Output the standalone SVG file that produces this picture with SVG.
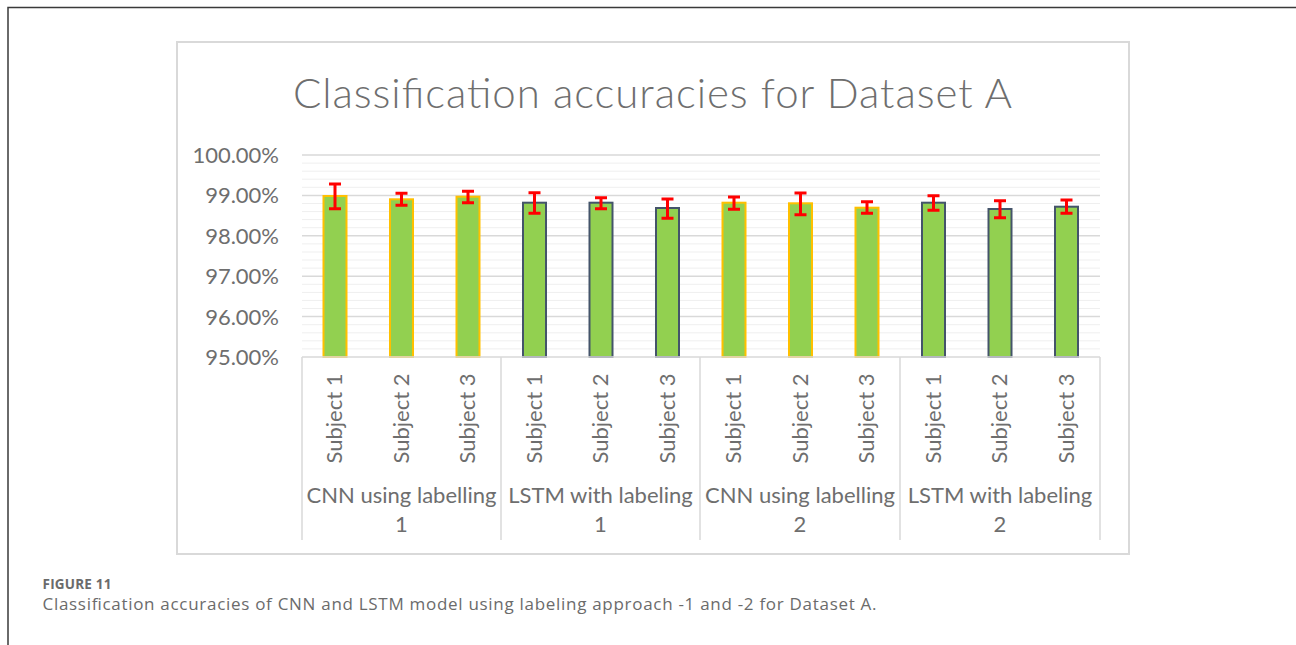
<svg xmlns="http://www.w3.org/2000/svg" width="1296" height="645" viewBox="0 0 1296 645">
  <style>
    .frame { fill: #ffffff; stroke: #d9d9d9; stroke-width: 2; }
    .major { stroke: #d9d9d9; stroke-width: 1.5; }
    .minor { stroke: #efefef; stroke-width: 1; }
    .axis { stroke: #d9d9d9; stroke-width: 1.5; fill: none; }
    .title { font-family: Lato, "Liberation Sans", sans-serif; font-weight: 300; font-size: 42px; fill: #6e6e6e; }
    .tick { font-family: Lato, "Liberation Sans", sans-serif; font-size: 22px; fill: #6e6e6e; text-anchor: end; }
    .sub { font-family: Lato, "Liberation Sans", sans-serif; font-size: 22px; fill: #6e6e6e; text-anchor: middle; }
    .grp { font-family: Lato, "Liberation Sans", sans-serif; font-size: 22px; fill: #6e6e6e; text-anchor: middle; }
    .cnn { fill: #92d050; stroke: #ffc000; stroke-width: 2; }
    .lstm { fill: #92d050; stroke: #44546a; stroke-width: 2; }
    .err { stroke: #ff0000; stroke-width: 3; fill: none; }
    .figlabel { font-family: "Open Sans", "Noto Sans", sans-serif; font-weight: 700; font-size: 13.5px; fill: #6b6b6b; }
    .caption { font-family: "Open Sans", "Noto Sans", sans-serif; font-size: 17px; fill: #6b6b6b; }
  </style>

  <!-- page border -->
  <path d="M8,645 V7.5 H1296" fill="none" stroke="#3a3a3a" stroke-width="1.5"/>

  <!-- chart area -->
  <rect class="frame" x="177" y="42" width="952" height="512"/>
  <text class="title" x="293" y="108" textLength="719" lengthAdjust="spacing">Classification accuracies for Dataset A</text>

  <!-- gridlines: minor every 0.2%, major every 1% -->
  <g id="gridlines">
    <g class="minor">
      <line x1="302" x2="1100" y1="163.1" y2="163.1"/><line x1="302" x2="1100" y1="171.2" y2="171.2"/><line x1="302" x2="1100" y1="179.2" y2="179.2"/><line x1="302" x2="1100" y1="187.3" y2="187.3"/>
      <line x1="302" x2="1100" y1="203.5" y2="203.5"/><line x1="302" x2="1100" y1="211.6" y2="211.6"/><line x1="302" x2="1100" y1="219.6" y2="219.6"/><line x1="302" x2="1100" y1="227.7" y2="227.7"/>
      <line x1="302" x2="1100" y1="243.9" y2="243.9"/><line x1="302" x2="1100" y1="252.0" y2="252.0"/><line x1="302" x2="1100" y1="260.0" y2="260.0"/><line x1="302" x2="1100" y1="268.1" y2="268.1"/>
      <line x1="302" x2="1100" y1="284.3" y2="284.3"/><line x1="302" x2="1100" y1="292.4" y2="292.4"/><line x1="302" x2="1100" y1="300.4" y2="300.4"/><line x1="302" x2="1100" y1="308.5" y2="308.5"/>
      <line x1="302" x2="1100" y1="324.7" y2="324.7"/><line x1="302" x2="1100" y1="332.8" y2="332.8"/><line x1="302" x2="1100" y1="340.8" y2="340.8"/><line x1="302" x2="1100" y1="348.9" y2="348.9"/>
    </g>
    <g class="major">
      <line x1="302" x2="1100" y1="155" y2="155"/>
      <line x1="302" x2="1100" y1="195.4" y2="195.4"/>
      <line x1="302" x2="1100" y1="235.8" y2="235.8"/>
      <line x1="302" x2="1100" y1="276.2" y2="276.2"/>
      <line x1="302" x2="1100" y1="316.6" y2="316.6"/>
    </g>
  </g>

  <!-- value axis labels -->
  <g id="value-axis">
    <text class="tick" x="279" y="163">100.00%</text>
    <text class="tick" x="279" y="203.4">99.00%</text>
    <text class="tick" x="279" y="243.8">98.00%</text>
    <text class="tick" x="279" y="284.2">97.00%</text>
    <text class="tick" x="279" y="324.6">96.00%</text>
    <text class="tick" x="279" y="365">95.00%</text>
  </g>

  <!-- bars -->
  <g id="bars">
    <rect class="cnn" x="323.5" y="196" width="23" height="161"/>
    <rect class="cnn" x="390" y="199.3" width="23" height="157.7"/>
    <rect class="cnn" x="456.5" y="196.7" width="23" height="160.3"/>
    <rect class="lstm" x="523" y="202.7" width="23" height="154.3"/>
    <rect class="lstm" x="589.5" y="202.7" width="23" height="154.3"/>
    <rect class="lstm" x="656" y="208" width="23" height="149"/>
    <rect class="cnn" x="722.5" y="202.7" width="23" height="154.3"/>
    <rect class="cnn" x="789" y="203.3" width="23" height="153.7"/>
    <rect class="cnn" x="855.5" y="207.7" width="23" height="149.3"/>
    <rect class="lstm" x="922" y="202.7" width="23" height="154.3"/>
    <rect class="lstm" x="988.5" y="209" width="23" height="148"/>
    <rect class="lstm" x="1055" y="206.7" width="23" height="150.3"/>
  </g>

  <!-- error bars -->
  <g id="error-bars" class="err">
    <path d="M335,184 V208.7 M329,184 H341 M329,208.7 H341"/>
    <path d="M401.5,193.3 V205.3 M395.5,193.3 H407.5 M395.5,205.3 H407.5"/>
    <path d="M468,191.3 V202.7 M462,191.3 H474 M462,202.7 H474"/>
    <path d="M534.5,192.7 V213.3 M528.5,192.7 H540.5 M528.5,213.3 H540.5"/>
    <path d="M601,197.7 V208.7 M595,197.7 H607 M595,208.7 H607"/>
    <path d="M667.5,199 V218.3 M661.5,199 H673.5 M661.5,218.3 H673.5"/>
    <path d="M734,197 V209.3 M728,197 H740 M728,209.3 H740"/>
    <path d="M800.5,193 V214.7 M794.5,193 H806.5 M794.5,214.7 H806.5"/>
    <path d="M867,201.7 V213.3 M861,201.7 H873 M861,213.3 H873"/>
    <path d="M933.5,195.7 V210.3 M927.5,195.7 H939.5 M927.5,210.3 H939.5"/>
    <path d="M1000,200.7 V217.7 M994,200.7 H1006 M994,217.7 H1006"/>
    <path d="M1066.5,200 V213.3 M1060.5,200 H1072.5 M1060.5,213.3 H1072.5"/>
  </g>

  <!-- category axis with group dividers -->
  <g id="category-axis">
    <path class="axis" d="M302,357 H1100 M302,357 V540 M501,357 V540 M700,357 V540 M900,357 V540 M1100,357 V540"/>
    <text class="sub" transform="translate(342,418.5) rotate(-90)">Subject 1</text>
    <text class="sub" transform="translate(408.5,418.5) rotate(-90)">Subject 2</text>
    <text class="sub" transform="translate(475,418.5) rotate(-90)">Subject 3</text>
    <text class="sub" transform="translate(541.5,418.5) rotate(-90)">Subject 1</text>
    <text class="sub" transform="translate(608,418.5) rotate(-90)">Subject 2</text>
    <text class="sub" transform="translate(674.5,418.5) rotate(-90)">Subject 3</text>
    <text class="sub" transform="translate(741,418.5) rotate(-90)">Subject 1</text>
    <text class="sub" transform="translate(807.5,418.5) rotate(-90)">Subject 2</text>
    <text class="sub" transform="translate(874,418.5) rotate(-90)">Subject 3</text>
    <text class="sub" transform="translate(940.5,418.5) rotate(-90)">Subject 1</text>
    <text class="sub" transform="translate(1007,418.5) rotate(-90)">Subject 2</text>
    <text class="sub" transform="translate(1073.5,418.5) rotate(-90)">Subject 3</text>
    <g id="group-cnn-1"><text class="grp" x="401.5" y="503">CNN using labelling</text><text class="grp" x="401.5" y="532">1</text></g>
    <g id="group-lstm-1"><text class="grp" x="600.5" y="503">LSTM with labeling</text><text class="grp" x="600.5" y="532">1</text></g>
    <g id="group-cnn-2"><text class="grp" x="800" y="503">CNN using labelling</text><text class="grp" x="800" y="532">2</text></g>
    <g id="group-lstm-2"><text class="grp" x="1000" y="503">LSTM with labeling</text><text class="grp" x="1000" y="532">2</text></g>
  </g>

  <!-- figure caption -->
  <text class="figlabel" x="42.5" y="589" textLength="69" lengthAdjust="spacing">FIGURE 11</text>
  <text class="caption" x="42.5" y="610" textLength="834" lengthAdjust="spacing">Classification accuracies of CNN and LSTM model using labeling approach -1 and -2 for Dataset A.</text>
</svg>
